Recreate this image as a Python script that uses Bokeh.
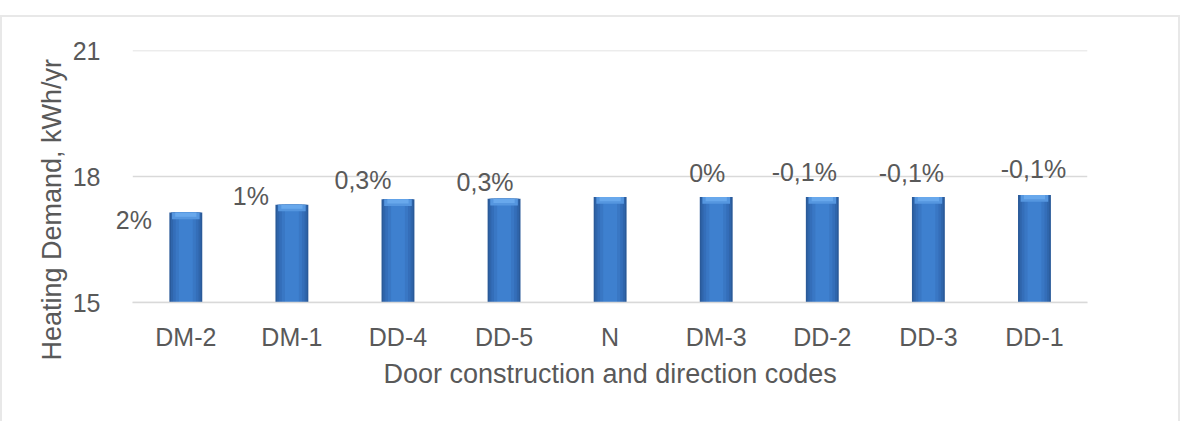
from bokeh.plotting import figure
from bokeh.models import ColumnDataSource, FixedTicker, Range1d, LabelSet, Title
from bokeh.core.properties import value
from bokeh.embed import file_html
from bokeh.resources import INLINE

# Door construction / direction codes and heating demand (kWh/yr)
categories = ["DM-2", "DM-1", "DD-4", "DD-5", "N", "DM-3", "DD-2", "DD-3", "DD-1"]
heating_demand = [17.14, 17.33, 17.46, 17.47, 17.51, 17.51, 17.51, 17.51, 17.56]
change_labels = ["2%", "1%", "0,3%", "0,3%", "", "0%", "-0,1%", "-0,1%", "-0,1%"]
y_ticks = [15, 18, 21]

FONT = "Liberation Sans"
TEXT_COLOR = "#595959"
GRID_COLOR = "#d9d9d9"

# pixel nudges for the percentage labels (relative to the bar top, + is up)
label_dx = [-52, -41, -35, -19, 0, -9, -18, -17, -1]
label_dy = [-7, 9, 19, 17, 0, 24, 25, 24, 26]

xpos = list(range(len(categories)))
x_lo, x_hi = -0.5, len(categories) - 0.5

source = ColumnDataSource(dict(
    x=xpos,
    val=heating_demand,
    bevel=[v - 0.16 for v in heating_demand],
    bevel_in=[v - 0.1 for v in heating_demand],
    lab=change_labels,
    dx=label_dx,
    dy=label_dy,
))

p = figure(
    x_range=Range1d(x_lo - 0.21, x_hi),
    y_range=Range1d(15, 21),
    width=1176, height=404,
    output_backend="svg", toolbar_location=None,
    min_border_left=108, min_border_right=91,
    min_border_top=33, min_border_bottom=119,
)
p.margin = (17, 0, 0, 2)
p.styles = {"outline": "2px solid #e8e8e8"}
p.outline_line_color = None
p.background_fill_color = "white"
p.border_fill_color = "white"

# horizontal gridlines across the category span
p.xgrid.visible = False
p.ygrid.visible = False
p.segment(x0=x_lo, x1=x_hi, y0=y_ticks, y1=y_ticks,
          line_color=GRID_COLOR, line_width=1.5)

# bars, layered from dark edges to a lighter middle for a rounded look
shades = [(0.31, "#2a5a99"), (0.28, "#2f65ab"), (0.24, "#346eb9"),
          (0.19, "#3977c4"), (0.13, "#3e80cf")]
for w, c in shades:
    p.vbar(x="x", top="val", bottom=15, width=w, source=source,
           fill_color=c, line_color=None)
# light bevel at the top of each bar
p.vbar(x="x", top="val", bottom="bevel", width=0.26, source=source,
       fill_color="#5596df", line_color=None)
p.vbar(x="x", top="val", bottom="bevel_in", width=0.2, source=source,
       fill_color="#68a8ec", line_color=None)

# percentage change labels
labels = LabelSet(x="x", y="val", text="lab", x_offset="dx", y_offset="dy",
                  source=source, text_font=value(FONT), text_font_size="25px",
                  text_color=TEXT_COLOR, text_align="center",
                  text_baseline="middle")
p.add_layout(labels)

# y axis
p.yaxis.ticker = FixedTicker(ticks=y_ticks)
p.yaxis.axis_line_color = None
p.yaxis.major_tick_line_color = None
p.yaxis.minor_tick_line_color = None
p.yaxis.major_label_standoff = 4
p.yaxis.major_label_text_font = FONT
p.yaxis.major_label_text_font_size = "25px"
p.yaxis.major_label_text_color = TEXT_COLOR

# x axis with category names
p.xaxis.ticker = FixedTicker(ticks=xpos)
p.xaxis.major_label_overrides = {i: c for i, c in zip(xpos, categories)}
p.xaxis.bounds = (x_lo, x_hi)
p.xaxis.axis_line_color = GRID_COLOR
p.xaxis.axis_line_width = 1.5
p.xaxis.major_tick_line_color = None
p.xaxis.minor_tick_line_color = None
p.xaxis.major_label_standoff = 14
p.xaxis.major_label_text_font = FONT
p.xaxis.major_label_text_font_size = "25px"
p.xaxis.major_label_text_color = TEXT_COLOR

# axis titles
xtitle = Title(text="Door construction and direction codes", align="left",
               offset=273, standoff=6, text_font=FONT, text_font_size="27px",
               text_font_style="normal", text_color=TEXT_COLOR)
p.add_layout(xtitle, "below")

ytitle = Title(text="Heating Demand, kWh/yr", align="left", offset=-58,
               standoff=6, text_font=FONT, text_font_size="27px",
               text_font_style="normal", text_color=TEXT_COLOR)
p.add_layout(ytitle, "left")

open("out.html", "w").write(file_html(p, INLINE))
